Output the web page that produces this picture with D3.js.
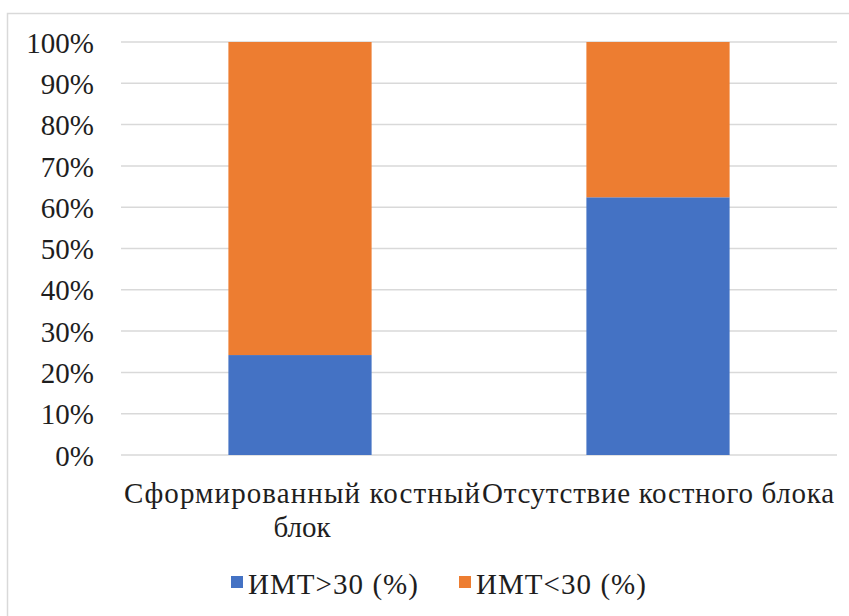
<!DOCTYPE html>
<html>
<head>
<meta charset="utf-8">
<script src="https://cdn.jsdelivr.net/npm/d3@7/dist/d3.min.js"></script>
</head>
<body style="margin:0;background:#fff">
<svg id="chart" width="849" height="616"></svg>
<script>
// Categories (wrapped label lines) and stacked series values in percent
const categories = ["Сформированный костный блок", "Отсутствие костного блока"];
const categoryLines = [["Сформированный костный", "блок"], ["Отсутствие костного блока"]];
const seriesNames = ["ИМТ>30 (%)", "ИМТ<30 (%)"];
const bmiOver30 = [24.2, 62.4];
const bmiUnder30 = [75.8, 37.6];
const yTicks = [0, 10, 20, 30, 40, 50, 60, 70, 80, 90, 100];
const colors = ["#4472c4", "#ed7d31"];

const FONT = '"Times New Roman"';
const TEXT_COLOR = "#1e1e1e";
const svg = d3.select("#chart");
const W = 849, H = 616;
const margin = { left: 121, right: 12, top: 42, bottom: 161 };

// Outer chart frame (runs off the right and bottom edges)
svg.append("rect")
  .attr("x", 7.5).attr("y", 13.5)
  .attr("width", W).attr("height", H)
  .attr("fill", "#fff").attr("stroke", "#d9d9d9").attr("stroke-width", 1.5);

const x = d3.scaleBand()
  .domain(categories)
  .range([margin.left, W - margin.right])
  .paddingInner(0.6).paddingOuter(0.3);

const y = d3.scaleLinear().domain([0, 100]).range([H - margin.bottom, margin.top]);

// Gridlines
svg.append("g")
  .selectAll("line")
  .data(yTicks)
  .join("line")
  .attr("x1", margin.left).attr("x2", W - margin.right)
  .attr("y1", d => y(d)).attr("y2", d => y(d))
  .attr("stroke", "#d9d9d9").attr("stroke-width", 1.5);

// Y axis labels
const yAxis = d3.axisLeft(y).tickValues(yTicks).tickFormat(d => d + "%").tickSize(0).tickPadding(27);
const yg = svg.append("g").attr("transform", `translate(${margin.left},0)`).call(yAxis);
yg.select(".domain").remove();
yg.selectAll("text")
  .style("font-family", FONT).attr("font-size", 29)
  .attr("fill", TEXT_COLOR).attr("dy", "0.35em");

// Stacked bars
const rows = categories.map((c, i) => ({ cat: c, s0: bmiOver30[i], s1: bmiUnder30[i] }));
const stack = d3.stack().keys(["s0", "s1"])(rows);
svg.append("g")
  .selectAll("g")
  .data(stack)
  .join("g")
  .attr("fill", (d, i) => colors[i])
  .selectAll("rect")
  .data(d => d)
  .join("rect")
  .attr("x", d => x(d.data.cat))
  .attr("width", x.bandwidth())
  .attr("y", d => y(d[1]))
  .attr("height", d => y(d[0]) - y(d[1]));

// Category labels: the long lines are spread to a fixed width so neighbours never collide
const lineWidths = [[356, null], [352]];
const catG = svg.append("g");
categories.forEach((c, i) => {
  const cx = x(c) + x.bandwidth() / 2 + (i === 0 ? 2 : 0);
  const t = catG.append("text")
    .attr("text-anchor", "middle")
    .style("font-family", FONT).attr("font-size", 29)
    .attr("fill", TEXT_COLOR)
    .attr("x", cx).attr("y", 503);
  categoryLines[i].forEach((line, j) => {
    const ts = t.append("tspan").attr("x", cx).attr("dy", j === 0 ? 0 : 34).text(line);
    if (lineWidths[i][j]) ts.attr("textLength", lineWidths[i][j]).attr("lengthAdjust", "spacing");
  });
});

// Legend
const legendItems = [{ x: 231, name: seriesNames[0], color: colors[0] }, { x: 459, name: seriesNames[1], color: colors[1] }];
const lg = svg.append("g");
legendItems.forEach(it => {
  lg.append("rect").attr("x", it.x).attr("y", 576).attr("width", 12).attr("height", 12).attr("fill", it.color);
  lg.append("text").attr("x", it.x + 17).attr("y", 594)
    .style("font-family", FONT).attr("font-size", 29)
    .attr("textLength", 170).attr("lengthAdjust", "spacing")
    .attr("fill", TEXT_COLOR).text(it.name);
});
</script>
</body>
</html>
